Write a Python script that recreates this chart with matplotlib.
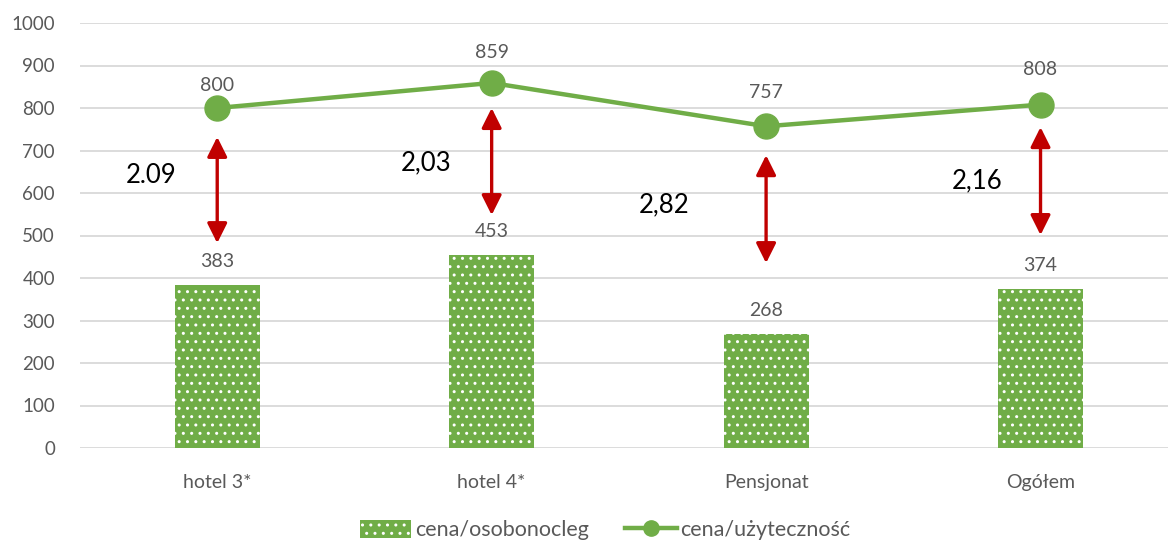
import matplotlib
matplotlib.use("Agg")
import matplotlib.pyplot as plt
from matplotlib.lines import Line2D
from matplotlib.patches import Patch

plt.rcParams["font.family"] = ["Lato", "DejaVu Sans"]
plt.rcParams["hatch.linewidth"] = 1.0

# Dane
kategorie = ["hotel 3*", "hotel 4*", "Pensjonat", "Ogółem"]
cena_osobonocleg = [383, 453, 268, 374]
cena_uzytecznosc = [800, 859, 757, 808]
wskazniki = ["2.09", "2,03", "2,82", "2,16"]
# zakres strzałek (góra, dół)
strzalka_gora = [732, 800, 689, 755]
strzalka_dol = [482, 548, 435, 501]

ZIELONY = "#70AD47"
CZERWONY = "#C00000"
SZARY = "#595959"

fig = plt.figure(figsize=(11.68, 5.42), dpi=100)
ax = fig.add_axes([80 / 1168, 94 / 542, 1 - 80 / 1168, 425 / 542])

x = list(range(len(kategorie)))

ax.bar(x, cena_osobonocleg, width=0.31, color=ZIELONY, edgecolor="white",
       linewidth=0, hatch="..", zorder=2)
ax.plot(x, cena_uzytecznosc, color=ZIELONY, lw=3.2, marker="o", ms=18, zorder=3)

# przesunięcia etykiet linii (pkt), jak w oryginale
odstep_linia = [16, 22, 24, 25]
for i in x:
    ax.annotate("", xy=(x[i], strzalka_gora[i]), xytext=(x[i], strzalka_dol[i]),
                arrowprops=dict(arrowstyle="<|-|>", color=CZERWONY, lw=2.4,
                                mutation_scale=30, shrinkA=0, shrinkB=0),
                zorder=4)
    ax.annotate(str(cena_uzytecznosc[i]), (x[i], cena_uzytecznosc[i]),
                xytext=(0, odstep_linia[i]), textcoords="offset points",
                ha="center", va="center", fontsize=14, color=SZARY)
    ax.annotate(str(cena_osobonocleg[i]), (x[i], cena_osobonocleg[i]),
                xytext=(0, 17), textcoords="offset points", ha="center",
                va="center", fontsize=14, color=SZARY)

# wskaźniki
pozycje_x = [-0.24, 0.76, 1.63, 2.77]
pozycje_y = [642, 670, 572, 628]
for px, py, t in zip(pozycje_x, pozycje_y, wskazniki):
    ax.text(px, py, t, ha="center", va="center", fontsize=18.5, color="black")

ax.set_xlim(-0.5, (1168 - 217) / 274.5)
ax.set_ylim(0, 1000)
ax.set_yticks(range(0, 1001, 100))
ax.set_xticks(x)
ax.set_xticklabels(kategorie)
ax.yaxis.grid(True, color="#D9D9D9", lw=1.3, zorder=0)
ax.set_axisbelow(True)
for s in ax.spines.values():
    s.set_visible(False)
ax.tick_params(axis="both", length=0, labelsize=13.5, labelcolor=SZARY)
ax.tick_params(axis="x", labelsize=14, pad=19)
ax.tick_params(axis="y", pad=18)

uchwyty = [
    Patch(facecolor=ZIELONY, edgecolor="white", linewidth=0, hatch=".."),
    Line2D([0], [0], color=ZIELONY, lw=3.2, marker="o", ms=11),
]
fig.legend(uchwyty, ["cena/osobonocleg", "cena/użyteczność"], loc="center",
           bbox_to_anchor=(605 / 1168, 1 - 530 / 542), ncol=2, frameon=False,
           fontsize=15.5, labelcolor=SZARY, handlelength=2.4, handleheight=0.9,
           handletextpad=0.15, columnspacing=1.7)

fig.savefig("out.png", dpi=100)
